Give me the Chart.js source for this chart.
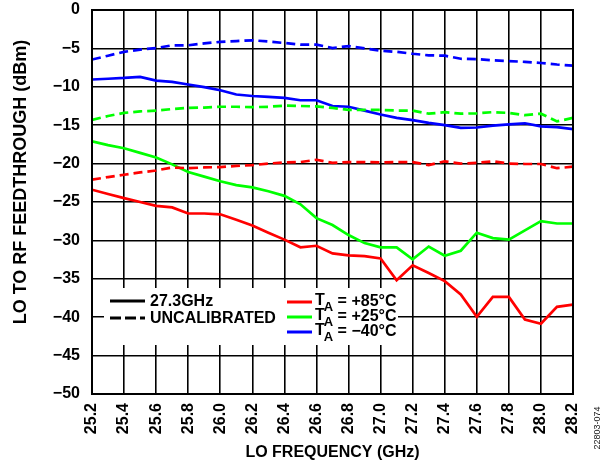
<!DOCTYPE html>
<html lang="en">
<head>
  <meta charset="UTF-8">
  <title>LO to RF Feedthrough vs LO Frequency</title>
  <script src="https://cdn.jsdelivr.net/npm/chart.js"></script>
  <style>
    html, body { margin: 0; padding: 0; background: #fff; }
    #wrap { width: 614px; height: 465px; }
  </style>
</head>
<body>
  <div id="wrap"><canvas id="feedChart" width="614" height="465"></canvas></div>

  <script>
    // LO frequency in GHz, one point every 0.1 GHz
    const freqs = [25.2, 25.3, 25.4, 25.5, 25.6, 25.7, 25.8, 25.9, 26.0, 26.1, 26.2,
                   26.3, 26.4, 26.5, 26.6, 26.7, 26.8, 26.9, 27.0, 27.1, 27.2,
                   27.3, 27.4, 27.5, 27.6, 27.7, 27.8, 27.9, 28.0, 28.1, 28.2];

    // calibrated at 27.3GHz (solid)
    const cal85 = [-23.4, -23.95, -24.5, -25.0, -25.5, -25.7, -26.5, -26.5, -26.6, -27.3, -28.05,
                   -29.0, -29.9, -30.9, -30.7, -31.7, -31.95, -32.05, -32.35, -35.2, -33.25,
                   -34.25, -35.3, -37.05, -39.95, -37.35, -37.35, -40.3, -40.85, -38.65, -38.35];
    const cal25 = [-17.1, -17.6, -18.0, -18.6, -19.2, -20.1, -21.1, -21.7, -22.3, -22.8, -23.1,
                   -23.6, -24.2, -25.3, -27.1, -28.0, -29.3, -30.35, -30.9, -30.9, -32.45,
                   -30.8, -32.0, -31.35, -29.0, -29.7, -29.9, -28.7, -27.5, -27.8, -27.8];
    const cal40 = [-9.05, -8.95, -8.85, -8.7, -9.2, -9.35, -9.7, -10.05, -10.45, -11.0, -11.2,
                   -11.3, -11.45, -11.75, -11.75, -12.5, -12.6, -13.1, -13.6, -14.05, -14.35,
                   -14.7, -15.0, -15.35, -15.3, -15.05, -14.9, -14.75, -15.15, -15.25, -15.5];

    // uncalibrated (dashed)
    const unc85 = [-22.1, -21.75, -21.45, -21.15, -20.9, -20.5, -20.6, -20.5, -20.45, -20.3, -20.2,
                   -20.0, -19.85, -19.8, -19.5, -19.9, -19.8, -19.8, -19.85, -19.8, -19.8,
                   -20.2, -19.7, -20.0, -19.9, -19.7, -20.0, -20.05, -20.05, -20.6, -20.4];
    const unc25 = [-14.3, -13.8, -13.4, -13.2, -13.1, -12.9, -12.75, -12.7, -12.6, -12.6, -12.65,
                   -12.6, -12.45, -12.5, -12.55, -12.75, -13.0, -13.0, -13.0, -13.1, -13.1,
                   -13.5, -13.3, -13.5, -13.45, -13.3, -13.4, -13.7, -13.5, -14.5, -14.05];
    const unc40 = [-6.45, -5.95, -5.45, -5.15, -4.95, -4.6, -4.6, -4.35, -4.15, -4.05, -3.95,
                   -4.1, -4.3, -4.5, -4.5, -4.95, -4.7, -5.0, -5.3, -5.45, -5.7,
                   -5.9, -5.95, -6.35, -6.4, -6.55, -6.65, -6.75, -6.9, -7.1, -7.25];

    const tempLabels = ['+85°C', '+25°C', '\u221240°C'];
    const tempColors = ['#ff0000', '#00ff00', '#0000ff'];
    const styleLabels = ['27.3GHz', 'UNCALIBRATED'];
    const yTitle = 'LO TO RF FEEDTHROUGH (dBm)';

    const FONT = '"Liberation Sans", Arial, Helvetica, sans-serif';
    Chart.defaults.font.family = FONT;
    Chart.defaults.font.weight = 'bold';
    Chart.defaults.color = '#000';

    function series(values, color, dashed) {
      return {
        data: values.map((v, i) => ({ x: freqs[i], y: v })),
        borderColor: color,
        borderWidth: 2.7,
        borderDash: dashed ? [9, 5] : [],
        pointRadius: 0,
        tension: 0,
        fill: false
      };
    }

    // outer frame, legend box, y title and figure number
    const decorations = {
      id: 'decorations',
      afterDraw(chart) {
        const ctx = chart.ctx;
        const a = chart.chartArea;
        ctx.save();

        ctx.strokeStyle = '#000';
        ctx.lineWidth = 2;
        ctx.strokeRect(a.left, a.top, a.right - a.left, a.bottom - a.top);

        // legend
        const bx = a.left + 12, by = a.top + 278;
        ctx.fillStyle = '#fff';
        ctx.fillRect(bx, by, 294, 57);

        ctx.textBaseline = 'middle';
        ctx.textAlign = 'left';
        ctx.lineWidth = 3;
        ctx.strokeStyle = '#000';
        ctx.fillStyle = '#000';
        ctx.font = 'bold 16px ' + FONT;
        const rows1 = [by + 13, by + 30];
        styleLabels.forEach((txt, i) => {
          ctx.setLineDash(i === 1 ? [11, 4] : []);
          ctx.beginPath();
          ctx.moveTo(bx + 6, rows1[i]);
          ctx.lineTo(bx + 41, rows1[i]);
          ctx.stroke();
          ctx.fillText(txt, bx + 46, rows1[i] + 1);
        });
        ctx.setLineDash([]);

        const rows2 = [by + 14, by + 29, by + 44];
        tempLabels.forEach((txt, i) => {
          ctx.strokeStyle = tempColors[i];
          ctx.beginPath();
          ctx.moveTo(bx + 183, rows2[i]);
          ctx.lineTo(bx + 208, rows2[i]);
          ctx.stroke();
          let x = bx + 211;
          const y = rows2[i] - 1;
          ctx.fillStyle = '#000';
          ctx.font = 'bold 16px ' + FONT;
          ctx.fillText('T', x, y);
          x += ctx.measureText('T').width - 1;
          ctx.font = 'bold 13px ' + FONT;
          ctx.fillText('A', x, y + 6);
          x += ctx.measureText('A').width;
          ctx.font = 'bold 16px ' + FONT;
          ctx.fillText(' = ' + txt, x, y + 1);
        });

        // y axis title
        ctx.save();
        ctx.translate(21, 182);
        ctx.rotate(-Math.PI / 2);
        ctx.textAlign = 'center';
        ctx.font = 'bold 18px ' + FONT;
        ctx.fillStyle = '#000';
        ctx.fillText(yTitle, 0, 0);
        ctx.restore();

        // figure number
        ctx.translate(598, 428);
        ctx.rotate(-Math.PI / 2);
        ctx.textAlign = 'center';
        ctx.font = '9px ' + FONT;
        ctx.fillStyle = '#222';
        ctx.fillText('22803-074', 0, 0);
        ctx.restore();
      }
    };

    new Chart(document.getElementById('feedChart').getContext('2d'), {
      type: 'line',
      data: {
        datasets: [
          series(unc85, tempColors[0], true),
          series(unc25, tempColors[1], true),
          series(unc40, tempColors[2], true),
          series(cal85, tempColors[0], false),
          series(cal25, tempColors[1], false),
          series(cal40, tempColors[2], false)
        ]
      },
      options: {
        responsive: false,
        animation: false,
        layout: { padding: { left: 0, right: 41, top: 10, bottom: 0 } },
        plugins: { legend: { display: false }, tooltip: { enabled: false } },
        scales: {
          x: {
            type: 'linear',
            min: 25.2,
            max: 28.2,
            afterFit: s => { s.height = 71; s.paddingLeft = 0; s.paddingRight = 0; },
            grid: { color: '#000', lineWidth: 1.6, drawTicks: false },
            border: { color: '#000', width: 2 },
            ticks: {
              stepSize: 0.2,
              autoSkip: false,
              minRotation: 90,
              maxRotation: 90,
              padding: 9,
              font: { size: 16, weight: 'bold' },
              callback: v => Number(v).toFixed(1)
            },
            title: {
              display: true,
              text: 'LO FREQUENCY (GHz)',
              font: { size: 16, weight: 'bold' },
              padding: { top: 0, bottom: 3 }
            }
          },
          y: {
            min: -50,
            max: 0,
            afterFit: s => { s.width = 92; s.paddingTop = 0; s.paddingBottom = 0; },
            grid: { color: '#000', lineWidth: 1.6, drawTicks: false },
            border: { color: '#000', width: 2 },
            ticks: {
              stepSize: 5,
              padding: 12,
              font: { size: 16, weight: 'bold' },
              callback: v => v < 0 ? '\u2212' + Math.abs(v) : String(v)
            },
            title: { display: false }
          }
        }
      },
      plugins: [decorations]
    });
  </script>
</body>
</html>
